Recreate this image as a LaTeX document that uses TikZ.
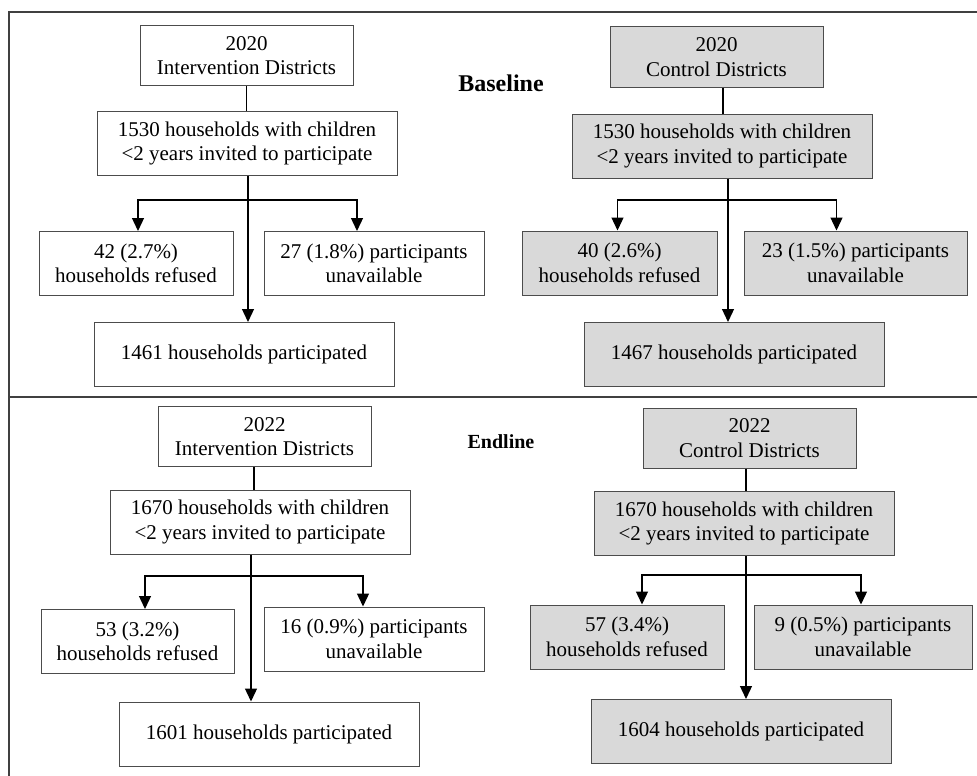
\documentclass[tikz,border=0pt]{standalone}
\usepackage{fontspec}
\setmainfont{Liberation Serif}
\usetikzlibrary{arrows.meta,positioning}

\begin{document}
\begin{tikzpicture}[x=1pt, y=-1pt,
  box/.style={draw=black!70, line width=1pt, fill=white, align=center, inner sep=0pt,
    minimum height=64, font=\fontsize{21}{24.5}\selectfont},
  ctrl/.style={box, fill=black!15},
  wide/.style={minimum width=300},
  head/.style={minimum width=213, minimum height=60},
  arr/.style={line width=1.3pt, -{Triangle[length=13pt,width=12pt]}},
  link/.style={line width=1.2pt},
  frame/.style={draw=black!75, line width=1.8pt}]
\useasboundingbox (0,0) rectangle (977,776);
\draw[frame] (9,776) |- (977,12);
\draw[frame] (9,397) -- (977,397);

% Baseline, intervention
\node[box, head] (bi1) at (246.5,55.5) {2020\\Intervention Districts};
\node[box, wide] (bi2) at (247,143.5) {1530 households with children\\<2 years invited to participate};
\node[box, minimum width=194] (bi3) at (136,263.5) {42 (2.7\%)\\households refused};
\node[box, minimum width=220] (bi4) at (374,263.5) {27 (1.8\%) participants\\unavailable};
\node[box, wide] (bi5) at (244,354.5) {1461 households participated};
\coordinate (bih) at (248,200);
\draw[link] (bi1.south) -- (bi1.south |- bi2.north);
\draw[arr] (bih |- bi2.south) -- (bih |- bi5.north);
\draw[arr] (bih) -| ([xshift=2]bi3.north);
\draw[arr] (bih) -| ([xshift=-17]bi4.north);

% Baseline, control
\node[ctrl, head] (bc1) at (716.5,57) {2020\\Control Districts};
\node[ctrl, wide] (bc2) at (722,146) {1530 households with children\\<2 years invited to participate};
\node[ctrl, minimum width=195] (bc3) at (619.5,263) {40 (2.6\%)\\households refused};
\node[ctrl, minimum width=223] (bc4) at (855.5,263) {23 (1.5\%) participants\\unavailable};
\node[ctrl, wide] (bc5) at (734,354.5) {1467 households participated};
\coordinate (bch) at (728,200);
\draw[link] (bc1.south -| 723,0) -- (723,0 |- bc2.north);
\draw[arr] (bch |- bc2.south) -- (bch |- bc5.north);
\draw[arr] (bch) -| ([xshift=-2]bc3.north);
\draw[arr] (bch) -| ([xshift=-19]bc4.north);

\node[font=\fontsize{24}{28}\selectfont\bfseries] (base) at (501,83) {Baseline};

% Endline, intervention
\node[box, head] (ei1) at (264.5,436.5) {2022\\Intervention Districts};
\node[box, wide] (ei2) at (260,522) {1670 households with children\\<2 years invited to participate};
\node[box, minimum width=193] (ei3) at (137.5,641.5) {53 (3.2\%)\\households refused};
\node[box, minimum width=220] (ei4) at (374,639) {16 (0.9\%) participants\\unavailable};
\node[box, wide] (ei5) at (269,734) {1601 households participated};
\coordinate (eih) at (251,576);
\draw[link] (254,0 |- ei1.south) -- (254,0 |- ei2.north);
\draw[arr] (eih |- ei2.south) -- (eih |- ei5.north);
\draw[arr] (eih) -| ([xshift=7.5]ei3.north);
\draw[arr] (eih) -| ([xshift=-11]ei4.north);

% Endline, control
\node[ctrl, head] (ec1) at (749.5,438) {2022\\Control Districts};
\node[ctrl, wide] (ec2) at (744,523.5) {1670 households with children\\<2 years invited to participate};
\node[ctrl, minimum width=194] (ec3) at (627,637) {57 (3.4\%)\\households refused};
\node[ctrl, minimum width=218] (ec4) at (863,637) {9 (0.5\%) participants\\unavailable};
\node[ctrl, wide] (ec5) at (741,731.5) {1604 households participated};
\coordinate (ech) at (746,575);
\draw[link] (ech |- ec1.south) -- (ech |- ec2.north);
\draw[arr] (ech |- ec2.south) -- (ech |- ec5.north);
\draw[arr] (ech) -| ([xshift=15]ec3.north);
\draw[arr] (ech) -| ([xshift=-2]ec4.north);

\node[font=\fontsize{20}{24}\selectfont\bfseries] (end) at (501,442) {Endline};
\end{tikzpicture}
\end{document}
